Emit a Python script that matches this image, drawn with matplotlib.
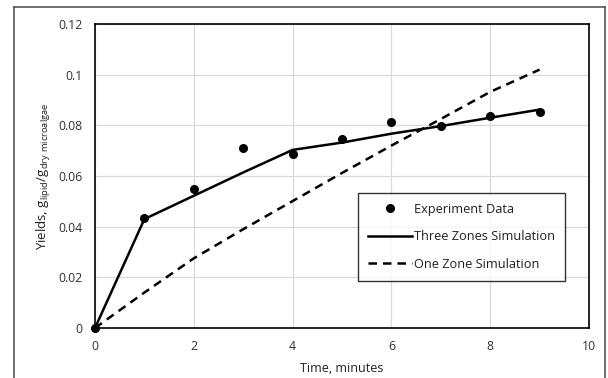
import matplotlib
matplotlib.use("Agg")
import matplotlib.pyplot as plt
from matplotlib.lines import Line2D

time_exp = [0, 1, 2, 3, 4, 5, 6, 7, 8, 9]
yield_exp = [0, 0.0435, 0.0550, 0.0710, 0.0685, 0.0745, 0.0813, 0.0797, 0.0836, 0.0852]

time_sim = [0, 1, 2, 3, 4, 5, 6, 7, 8, 9]
yield_three = [0, 0.0430, 0.0522, 0.0614, 0.0703, 0.0732, 0.0767, 0.0797, 0.0830, 0.0862]
yield_one = [0, 0.0140, 0.0275, 0.0390, 0.0501, 0.0612, 0.0720, 0.0825, 0.0932, 0.1020]

xticks = [0, 2, 4, 6, 8, 10]
yticks = [0, 0.02, 0.04, 0.06, 0.08, 0.1, 0.12]
ytick_labels = ["0", "0.02", "0.04", "0.06", "0.08", "0.1", "0.12"]

plt.rcParams['font.family'] = ['Open Sans', 'DejaVu Sans']

fig = plt.figure(figsize=(6.08, 3.78), dpi=100)
ax = fig.add_axes([95/608, 1-328/378, (589-95)/608, (328-24)/378])

dash = (0, (3.4, 2.4))
ax.plot(time_sim, yield_three, color='black', lw=1.8, zorder=3)
ax.plot(time_sim, yield_one, color='black', lw=1.8, ls=dash, zorder=3)
ax.plot(time_exp, yield_exp, 'o', color='black', ms=5.5, zorder=4, clip_on=False)

ax.set_xlim(0, 10)
ax.set_ylim(0, 0.12)
ax.set_xticks(xticks)
ax.set_yticks(yticks)
ax.set_yticklabels(ytick_labels)
ax.tick_params(length=0, labelsize=8.8, colors='#303030', pad=9)
ax.grid(True, color='#d9d9d9', lw=0.9)
ax.set_axisbelow(True)
for s in ax.spines.values():
    s.set_color('black')
    s.set_linewidth(1.2)

ax.set_xlabel('Time, minutes', fontsize=9, color='#202020', labelpad=6)
ax.set_ylabel(r'Yields, g$_{\mathregular{lipid}}$/g$_{\mathregular{dry\ microalgae}}$',
              fontsize=9.5, color='#202020', labelpad=4)

handles = [Line2D([], [], ls='none', marker='o', color='black', ms=5.5),
           Line2D([], [], color='black', lw=1.8),
           Line2D([], [], color='black', lw=1.8, ls=dash)]
labels = ['Experiment Data', 'Three Zones Simulation', 'One Zone Simulation']
leg = ax.legend(handles, labels, loc='upper left',
                bbox_to_anchor=((358-95)/494, (328-193)/304),
                fontsize=9.2, frameon=True, fancybox=False, edgecolor='black',
                handlelength=3.5, handletextpad=0.15, labelspacing=1.15,
                borderpad=0.75, borderaxespad=0)
leg.get_frame().set_linewidth(1.0)
for t in leg.get_texts():
    t.set_color('#202020')

# outer chart frame
fig.add_artist(Line2D([14/608, 14/608], [0, 1-7/378], color='#555555', lw=1.2, transform=fig.transFigure))
fig.add_artist(Line2D([14/608, 605/608], [1-7/378, 1-7/378], color='#555555', lw=1.2, transform=fig.transFigure))
fig.add_artist(Line2D([605/608, 605/608], [0, 1-7/378], color='#555555', lw=1.2, transform=fig.transFigure))

fig.savefig('out.png', dpi=100)
